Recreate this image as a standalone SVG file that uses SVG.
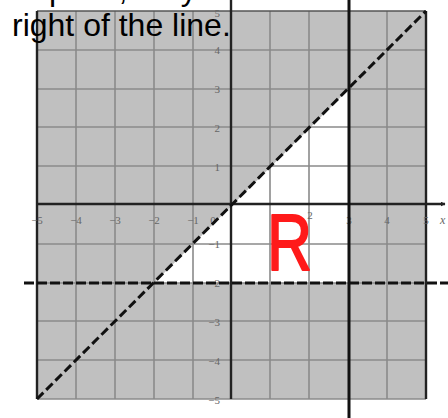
<svg xmlns="http://www.w3.org/2000/svg" width="448" height="418" viewBox="0 0 448 418">
<style>
.grid{stroke:#8a8a8a;stroke-width:1.6;fill:none}
.axis{stroke:#222;stroke-width:2.4;fill:none}
.bold{stroke:#111;stroke-width:3;fill:none}
.dash{stroke:#111;stroke-width:3;fill:none}
.tick{font-family:"Liberation Serif",serif;font-size:11px;fill:#666}
.big{font-family:"Liberation Sans",Arial,sans-serif;font-size:32px;fill:#000}
</style>
<defs>
<marker id="arr" viewBox="0 0 10 10" refX="9" refY="5" markerWidth="5" markerHeight="5" orient="auto" markerUnits="userSpaceOnUse">
<path d="M0,0 L10,5 L0,10 z" fill="#222"/>
</marker>
</defs>
<rect width="448" height="418" fill="#fff"/>
<g id="shading">
<rect x="37" y="11" width="389" height="388" fill="#c0c0c0"/>
<polygon id="region-R" points="154,283 349,283 349,89" fill="#fff"/>
</g>
<g id="grid">
<path class="grid" d="M76,11V399M115,11V399M154,11V399M193,11V399M270,11V399M309,11V399M387,11V399M37,50H426M37,89H426M37,127H426M37,166H426M37,244H426M37,283H426M37,321H426M37,360H426M37,399H426"/>
<path d="M37,11H426" stroke="#555" stroke-width="1.6"/>
<path d="M37,11V399M426,11V399" stroke="#222" stroke-width="2.4"/>
</g>
<g id="axes">
<path class="axis" d="M231,0V399"/>
<path class="axis" d="M37,204H445" marker-end="url(#arr)"/>
<text x="440" y="224" font-family="Liberation Serif,serif" font-style="italic" font-size="12" fill="#666">x</text>
</g>
<g id="tick-labels" class="tick">
<text x="37" y="224" text-anchor="middle">−5</text>
<text x="76" y="224" text-anchor="middle">−4</text>
<text x="115" y="224" text-anchor="middle">−3</text>
<text x="154" y="224" text-anchor="middle">−2</text>
<text x="193" y="224" text-anchor="middle">−1</text>
<text x="213" y="224" text-anchor="middle">0</text>
<text x="310" y="219" text-anchor="middle">2</text>
<text x="349" y="224" text-anchor="middle">3</text>
<text x="387" y="224" text-anchor="middle">4</text>
<text x="426" y="224" text-anchor="middle">5</text>
<g text-anchor="end">
<text x="220" y="17">5</text>
<text x="220" y="54">4</text>
<text x="220" y="93">3</text>
<text x="220" y="132">2</text>
<text x="220" y="171">1</text>
<text x="220" y="248">−1</text>
<text x="220" y="287">−2</text>
<text x="220" y="326">−3</text>
<text x="220" y="365">−4</text>
<text x="220" y="404">−5</text>
</g>
</g>
<g id="boundaries">
<path class="bold" d="M349,0V418"/>
<path class="dash" d="M24,283H448" stroke-dasharray="10 3"/>
<path class="dash" d="M37,399L426,11" stroke-dasharray="9 4"/>
</g>
<g id="label-R">
<text transform="translate(267,270) scale(0.78,1)" font-family="Liberation Sans,Arial,sans-serif" font-size="80" fill="#ff1a1a" stroke="#ff1a1a" stroke-width="2" stroke-linejoin="round">R</text>
</g>
<g id="caption">
<text class="big" x="33" y="0">space, they</text>
<text class="big" x="12" y="36">right of the line.</text>
</g>
</svg>
